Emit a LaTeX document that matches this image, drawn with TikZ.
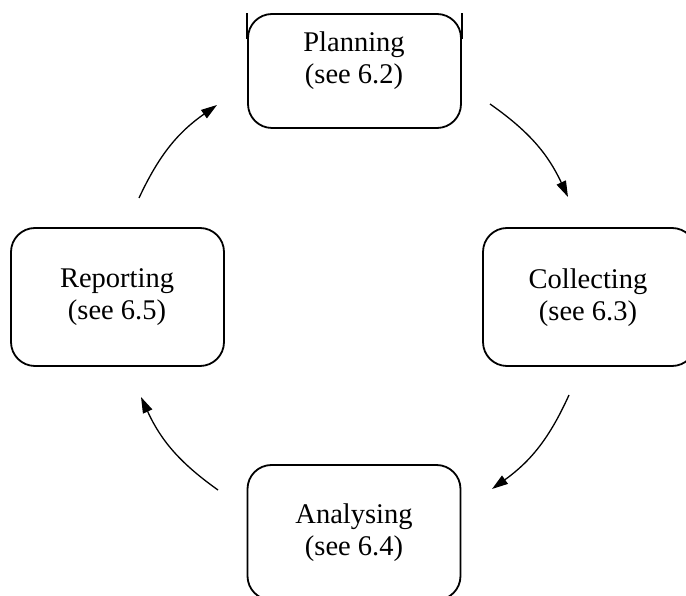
\documentclass[tikz,border=0pt]{standalone}
\usepackage{fontspec}
\setmainfont{Liberation Serif}
\usetikzlibrary{arrows.meta}
\begin{document}
\begin{tikzpicture}[x=1pt,y=1pt,
  stagebox/.style={draw=black,line width=1.8pt,rounded corners=24pt,minimum width=213pt,inner sep=0pt},
  stagetext/.style={align=center,font=\fontsize{28.5}{32}\selectfont,inner sep=0pt},
  cyc/.style={line width=1.3pt,-{Triangle[length=16pt,width=10pt]}}]
\useasboundingbox (0,0) rectangle (686,595);
\clip (0,0) rectangle (686,595);
% boxes (y measured upward: y = 595 - image row)
\node[stagebox,minimum height=114pt] (plan) at (354.5,524) {};
\node[stagebox,minimum height=138pt] (coll) at (589.5,298) {};
\node[stagebox,minimum height=135pt] (anal) at (354,62.5) {};
\node[stagebox,minimum height=138pt] (repo) at (117.5,298) {};
% straight side strokes at the top corners of the Planning box
\draw[line width=1.8pt] (plan.north west) -- ++(0,-26);
\draw[line width=1.8pt] (plan.north east) -- ++(0,-26);
% texts
\node[stagetext] (planT) at (354,534) {Planning\\(see 6.2)};
\node[stagetext] (collT) at (588,297) {Collecting\\(see 6.3)};
\node[stagetext] (analT) at (354,62) {Analysing\\(see 6.4)};
\node[stagetext] (repoT) at (117,298) {Reporting\\(see 6.5)};
% connector ends
\coordinate (r1) at (139,397); \coordinate (p1) at (217,490);
\coordinate (p2) at (490,491); \coordinate (c2) at (568,398);
\coordinate (c3) at (569,200); \coordinate (a3) at (492,106);
\coordinate (a4) at (218,105); \coordinate (r4) at (141,198);
\draw[cyc] (r1) to[bend left=15] (p1);
\draw[cyc] (p2) to[bend left=15] (c2);
\draw[cyc] (c3) to[bend left=15] (a3);
\draw[cyc] (a4) to[bend left=15] (r4);
\end{tikzpicture}
\end{document}
